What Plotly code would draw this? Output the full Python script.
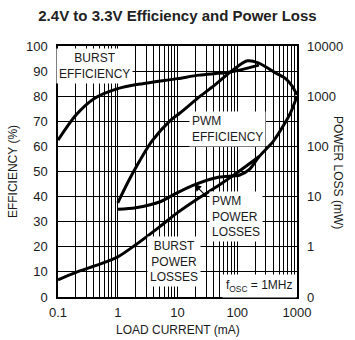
import plotly.graph_objects as go
import numpy as np

# ---- data ----
burst_eff_x = [0.1, 0.2, 0.4, 1, 2.6, 10, 23, 76, 230]
burst_eff_y = [62.5, 72.5, 79, 83, 85, 87, 88.4, 89.6, 92.4]

pwm_eff_x = [1, 1.5, 2, 3.7, 7.7, 11, 24, 45, 80, 148, 230, 445, 645, 830, 1000]
pwm_eff_y = [37.5, 46, 51.5, 62, 70.5, 73.3, 80, 85, 90, 94.1, 93.2, 89.2, 87, 84, 80.5]

burst_loss_x = [0.1, 0.2, 0.5, 1, 2, 5, 10, 20, 50, 100, 230]
burst_loss_mw = [0.22, 0.31, 0.45, 0.63, 1.1, 2.5, 4.8, 8.5, 17, 30, 62]

pwm_loss_x = [1, 2, 5, 10, 20, 50, 110, 160, 230, 400, 600, 800, 1000]
pwm_loss_mw = [5.6, 6.0, 7.8, 12, 17.5, 24.5, 27, 35, 62, 126, 266, 501, 1000]

x_ticks = ["0.1", "1", "10", "100", "1000"]
y_ticks = [0, 10, 20, 30, 40, 50, 60, 70, 80, 90, 100]
y2_tickvals = [0.1, 1, 10, 100, 1000, 10000]
y2_ticktext = ["0", "1", "10", "100", "1000", "10000"]

FONT = "Liberation Sans, Arial, sans-serif"
TXT = "#1a1a1a"

# grid values: every 1..9 x decade
grid_vals = []
grid_text = []
for d in range(-1, 3):
    for k in range(1, 10):
        v = k * 10 ** d
        grid_vals.append(v)
        grid_text.append(x_ticks[d + 1] if k == 1 else "")
grid_vals.append(1000)
grid_text.append("1000")

line = dict(color="black", width=3, shape="spline", smoothing=0.8)

fig = go.Figure()
fig.add_trace(go.Scatter(x=burst_eff_x, y=burst_eff_y, mode="lines", line=line, yaxis="y"))
fig.add_trace(go.Scatter(x=pwm_eff_x, y=pwm_eff_y, mode="lines", line=line, yaxis="y"))
fig.add_trace(go.Scatter(x=burst_loss_x, y=burst_loss_mw, mode="lines", line=line, yaxis="y2"))
fig.add_trace(go.Scatter(x=pwm_loss_x, y=pwm_loss_mw, mode="lines", line=line, yaxis="y2"))

LF = dict(family=FONT, size=12, color=TXT)
lab = dict(font=LF, bgcolor="white", showarrow=False, xref="x", yref="y", borderpad=2)

W, H = 355, 340
ml, mr, mt, mb = 52, 53, 46, 43
pw, ph = W - ml - mr, H - mt - mb

annotations = [
    dict(text="BURST<br>EFFICIENCY", x=np.log10(0.41), y=92.0, xanchor="center", yanchor="middle", align="center", **lab),
    dict(text="PWM<br>EFFICIENCY", x=np.log10(15.5), y=67.1, xanchor="left", yanchor="middle", align="left", **lab),
    dict(text="PWM<br>POWER<br>LOSSES", x=np.log10(34), y=31.9, xanchor="left", yanchor="middle", align="left", **lab),
    dict(text="BURST<br>POWER<br>LOSSES", x=np.log10(8.8), y=14.3, xanchor="center", yanchor="middle", align="center", **lab),
    dict(text="f<sub>OSC</sub> = 1MHz", x=np.log10(1000), y=4.5, xanchor="right", yanchor="middle", align="left",
         font=LF, bgcolor="white", showarrow=False, xref="x", yref="y", borderpad=3),
    # arrow pointing to PWM power loss curve
    dict(text="", x=np.log10(19), y=45.0, xref="x", yref="y", showarrow=True, arrowhead=2,
         arrowsize=1.2, arrowwidth=1.2, arrowcolor="black", ax=14, ay=14),
    # right axis title
    dict(text="POWER LOSS (mW)", textangle=90, x=(345 - ml) / pw, y=(H - mb - 172) / ph,
         xref="paper", yref="paper", xanchor="center", yanchor="middle", showarrow=False, font=LF),
    # bottom axis title
    dict(text="LOAD CURRENT (mA)", x=0.5, y=-(330 - (H - mb)) / ph, xref="paper", yref="paper",
         xanchor="center", yanchor="middle", showarrow=False, font=LF),
]

fig.update_layout(
    width=W, height=H,
    margin=dict(l=ml, r=mr, t=mt, b=mb, pad=0),
    paper_bgcolor="white", plot_bgcolor="white",
    showlegend=False,
    font=LF,
    title=dict(text="<b>2.4V to 3.3V Efficiency and Power Loss</b>", x=0.5, xref="container",
               y=1 - 16 / H, yanchor="middle", yref="container",
               font=dict(family=FONT, size=15, color="#222")),
    xaxis=dict(type="log", range=[-1, 3], tickvals=grid_vals, ticktext=grid_text,
               showgrid=True, gridcolor="black", gridwidth=1, ticks="",
               showline=True, linecolor="black", linewidth=1.5, mirror=True, zeroline=False,
               tickfont=dict(family=FONT, size=13, color=TXT), ticklabelstandoff=3),
    yaxis=dict(range=[0, 100], tickvals=y_ticks, ticktext=[str(v) for v in y_ticks],
               showgrid=True, gridcolor="black", gridwidth=1, ticks="",
               showline=True, linecolor="black", linewidth=1.5, mirror=True, zeroline=False,
               tickfont=dict(family=FONT, size=13, color=TXT), ticklabelstandoff=6,
               title=dict(text="EFFICIENCY (%)", standoff=6, font=LF)),
    yaxis2=dict(type="log", range=[-1, 4], overlaying="y", side="right",
                tickvals=y2_tickvals, ticktext=y2_ticktext, showgrid=False, ticks="",
                showline=False, zeroline=False, ticklabelstandoff=9,
                tickfont=dict(family=FONT, size=13, color=TXT)),
    annotations=annotations,
)

fig.write_html("out.html")
